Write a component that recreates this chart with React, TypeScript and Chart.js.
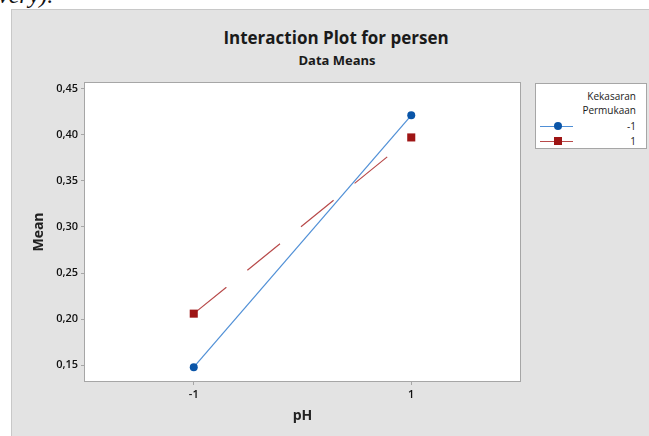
import React, { useEffect, useRef } from "react";
import { Chart, registerables } from "chart.js";

Chart.register(...registerables);

// ---- data ----
const pHLevels = [-1, 1];
const legendTitle = ["Kekasaran", "Permukaan"];
const seriesLabels = ["-1", "1"];
const meansKekasaranNeg = [0.148, 0.421];
const meansKekasaranPos = [0.206, 0.397];
const yTickValues = [0.15, 0.2, 0.25, 0.3, 0.35, 0.4, 0.45];
const xTickValues = [-1, 1];

const BLUE_MARK = "#0a55a8";
const BLUE_LINE = "#4f8fd6";
const RED_MARK = "#9e1515";
const RED_LINE = "#b84a4a";
const FONT = "'Open Sans', 'Noto Sans', sans-serif";

const plotFrame = {
  id: "plotFrame",
  beforeDraw(chart: any) {
    const { ctx, chartArea: a } = chart;
    ctx.save();
    ctx.fillStyle = "#ffffff";
    ctx.fillRect(a.left, a.top, a.right - a.left, a.bottom - a.top);
    ctx.restore();
  },
  afterDraw(chart: any) {
    const { ctx, chartArea: a } = chart;
    ctx.save();
    ctx.strokeStyle = "#a6a6a6";
    ctx.lineWidth = 1;
    ctx.strokeRect(Math.round(a.left) - 0.5, Math.round(a.top) - 0.5, Math.round(a.right - a.left) + 1, Math.round(a.bottom - a.top) + 1);
    ctx.restore();
  },
};

export default function App() {
  const ref = useRef<HTMLCanvasElement>(null);

  useEffect(() => {
    if (!ref.current) return;
    const chart = new Chart(ref.current, {
      type: "line",
      data: {
        datasets: [
          {
            label: seriesLabels[0],
            data: pHLevels.map((x, i) => ({ x, y: meansKekasaranNeg[i] })),
            borderColor: BLUE_LINE,
            borderWidth: 1.2,
            pointStyle: "circle",
            pointRadius: 4,
            pointBackgroundColor: BLUE_MARK,
            pointBorderColor: BLUE_MARK,
            pointBorderWidth: 0,
            order: 1,
          },
          {
            label: seriesLabels[1],
            data: pHLevels.map((x, i) => ({ x, y: meansKekasaranPos[i] })),
            borderColor: RED_LINE,
            borderWidth: 1.2,
            borderDash: [42, 27],
            pointStyle: "rect",
            pointRadius: 5.7,
            pointBackgroundColor: RED_MARK,
            pointBorderColor: RED_MARK,
            pointBorderWidth: 0,
            order: 2,
          },
        ],
      },
      options: {
        animation: false,
        responsive: false,
        events: [],
        layout: { padding: { left: 0, top: 83, right: 129, bottom: 0 } },
        plugins: { legend: { display: false }, tooltip: { enabled: false }, title: { display: false } },
        scales: {
          x: {
            type: "linear",
            min: -2,
            max: 2,
            afterBuildTicks: (s: any) => {
              s.ticks = xTickValues.map((v) => ({ value: v }));
            },
            afterFit: (s: any) => {
              s.height = 55;
            },
            grid: { drawOnChartArea: false, drawTicks: true, tickLength: 4, color: "#a6a6a6" },
            border: { display: false },
            ticks: {
              color: "#111111",
              font: { family: FONT, size: 11, weight: "600" },
              padding: 3,
              callback: (v: any) => String(v),
            },
            title: {
              display: true,
              text: "pH",
              color: "#222222",
              font: { family: FONT, size: 14, weight: "bold" },
              padding: { top: 0, bottom: 11.6 },
            },
          },
          y: {
            type: "linear",
            min: 0.133,
            max: 0.456,
            afterBuildTicks: (s: any) => {
              s.ticks = yTickValues.map((v) => ({ value: v }));
            },
            afterFit: (s: any) => {
              s.width = 85;
            },
            grid: { drawOnChartArea: false, drawTicks: true, tickLength: 4, color: "#a6a6a6" },
            border: { display: false },
            ticks: {
              color: "#111111",
              font: { family: FONT, size: 11, weight: "600" },
              padding: 3,
              callback: (v: any) => Number(v).toFixed(2).replace(".", ","),
            },
            title: {
              display: true,
              text: "Mean",
              color: "#222222",
              font: { family: FONT, size: 14, weight: "bold" },
              padding: { top: 30.6, bottom: 0 },
            },
          },
        },
      },
      plugins: [plotFrame],
    });
    return () => chart.destroy();
  }, []);

  return (
    <div style={{ position: "fixed", left: 0, top: 0, width: 649, height: 436, overflow: "hidden", background: "#ffffff" }}>
      <div
        style={{
          position: "absolute",
          left: -2,
          top: -17,
          fontFamily: "'Liberation Serif', serif",
          fontStyle: "italic",
          fontSize: 24,
          lineHeight: "24px",
          color: "#111",
          whiteSpace: "nowrap",
        }}
      >
        very).
      </div>
      <div
        style={{
          position: "absolute",
          left: 11,
          top: 9,
          width: 700,
          height: 500,
          background: "#e3e3e3",
          border: "1px solid #c8c8c8",
        }}
      />
      <div
        style={{
          position: "absolute",
          left: 0,
          width: 672,
          top: 27,
          textAlign: "center",
          fontFamily: FONT,
          fontWeight: 700,
          fontSize: 17,
          lineHeight: "22px",
          color: "#1a1a1a",
        }}
      >
        Interaction Plot for persen
      </div>
      <div
        style={{
          position: "absolute",
          left: 0,
          width: 674,
          top: 51,
          textAlign: "center",
          fontFamily: FONT,
          fontWeight: 700,
          fontSize: 13,
          lineHeight: "18px",
          color: "#1a1a1a",
        }}
      >
        Data Means
      </div>
      <canvas ref={ref} width={649} height={436} style={{ position: "absolute", left: 0, top: 0, width: 649, height: 436 }} />
      <div
        style={{
          position: "absolute",
          left: 535,
          top: 83,
          width: 112,
          height: 66,
          background: "#ffffff",
          border: "1px solid #a6a6a6",
          boxSizing: "border-box",
          fontFamily: FONT,
          fontSize: 10,
          color: "#1a1a1a",
        }}
      >
        <div style={{ position: "absolute", right: 10, top: 5, lineHeight: "14px", textAlign: "right" }}>
          {legendTitle[0]}
          <br />
          {legendTitle[1]}
        </div>
        {[
          { label: seriesLabels[0], line: BLUE_LINE, mark: BLUE_MARK, round: true, y: 42 },
          { label: seriesLabels[1], line: RED_LINE, mark: RED_MARK, round: false, y: 57 },
        ].map((e) => (
          <div key={e.label}>
            <div style={{ position: "absolute", left: 4, top: e.y - 0.5, width: 33, height: 1.5, background: e.line }} />
            <div
              style={{
                position: "absolute",
                left: 22 - 4,
                top: e.y - 4,
                width: 8,
                height: 8,
                background: e.mark,
                borderRadius: e.round ? "50%" : 0,
              }}
            />
            <div style={{ position: "absolute", right: 10, top: e.y - 7, lineHeight: "14px" }}>{e.label}</div>
          </div>
        ))}
      </div>
    </div>
  );
}
